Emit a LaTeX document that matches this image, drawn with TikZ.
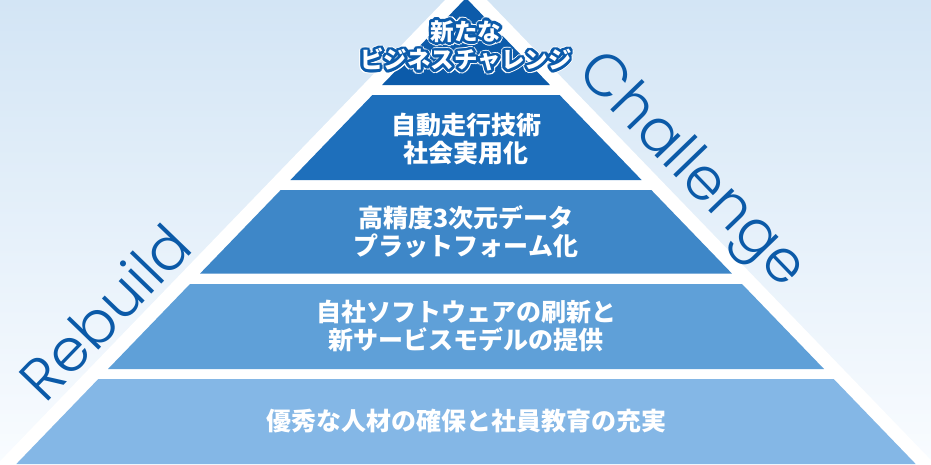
\documentclass[tikz,border=0pt]{standalone}
\usepackage{fontspec}
\newfontfamily\jp{Noto Sans CJK JP}
\newfontfamily\geo{Poppins Light}
\usetikzlibrary{calc}
\definecolor{tierA}{HTML}{0C5BAA}
\definecolor{tierB}{HTML}{1E6FBB}
\definecolor{tierC}{HTML}{3E87C8}
\definecolor{tierD}{HTML}{5FA0D8}
\definecolor{tierE}{HTML}{84B7E6}
\definecolor{bgtop}{HTML}{D3E5F5}
\definecolor{bgbot}{HTML}{F9FCFF}
\definecolor{wordblue}{HTML}{0B5AA8}
\tikzset{
  tiertxt/.style={text=white, font=\jp\bfseries\fontsize{25}{28}\selectfont, align=center, inner sep=0pt},
  toptxt/.style={font=\jp\bfseries\fontsize{23.5}{28.5}\selectfont, align=center, inner sep=0pt},
  bigword/.style={text=wordblue, font=\geo\fontsize{59}{60}\selectfont, inner sep=0pt, anchor=base west}
}
\begin{document}
\begin{tikzpicture}[x=1pt,y=-1pt]
\useasboundingbox (0,0) rectangle (931,464);
\clip (0,0) rectangle (931,464);
\shade[top color=bgtop, bottom color=bgbot] (0,0) rectangle (931,464);
% white pyramid
\fill[white] (466,-21.7) -- (-8.5,470) -- (940.5,470) -- cycle;
% tiers (half width = 0.965*(y+2))
\fill[tierA] (466,-2) -- (382.04,85) -- (549.96,85) -- cycle;
\fill[tierB] (372.4,95) -- (559.6,95) -- (641.6,180) -- (290.4,180) -- cycle;
\fill[tierC] (280.7,190) -- (651.3,190) -- (731.9,273.5) -- (200.1,273.5) -- cycle;
\fill[tierD] (190,284) -- (742,284) -- (824,369) -- (108,369) -- cycle;
\fill[tierE] (98.3,379) -- (833.7,379) -- (915.7,464) -- (16.3,464) -- cycle;
% side words
\coordinate (rb) at (45.5,404.6);
\coordinate (ch) at (575.6,73.5);
\node[bigword, rotate=46] (rebuild) at (rb) {Rebuild};
\node[bigword, rotate=-46] (challenge) at (ch) {Challenge};
% top text with outline and thin white halo
\coordinate (topc) at (466,46);
\foreach \a in {0,22.5,...,337.5}{
  \node[toptxt, text=white] (h\a) at ($(topc)+(\a:3.8)$) {新たな\\ビジネスチャレンジ};
}
\foreach \a in {0,22.5,...,337.5}{
  \node[toptxt, text=tierA] (o\a) at ($(topc)+(\a:2.7)$) {新たな\\ビジネスチャレンジ};
}
\node[toptxt, text=white] (t1) at (topc) {新たな\\ビジネスチャレンジ};
% tier texts
\node[tiertxt] (t2) at (466,139.5) {自動走行技術\\社会実用化};
\node[tiertxt] (t3) at (466,232) {高精度3次元データ\\プラットフォーム化};
\node[tiertxt] (t4) at (466,325.5) {自社ソフトウェアの刷新と\\新サービスモデルの提供};
\node[tiertxt] (t5) at (466,421.5) {優秀な人材の確保と社員教育の充実};
\end{tikzpicture}
\end{document}
